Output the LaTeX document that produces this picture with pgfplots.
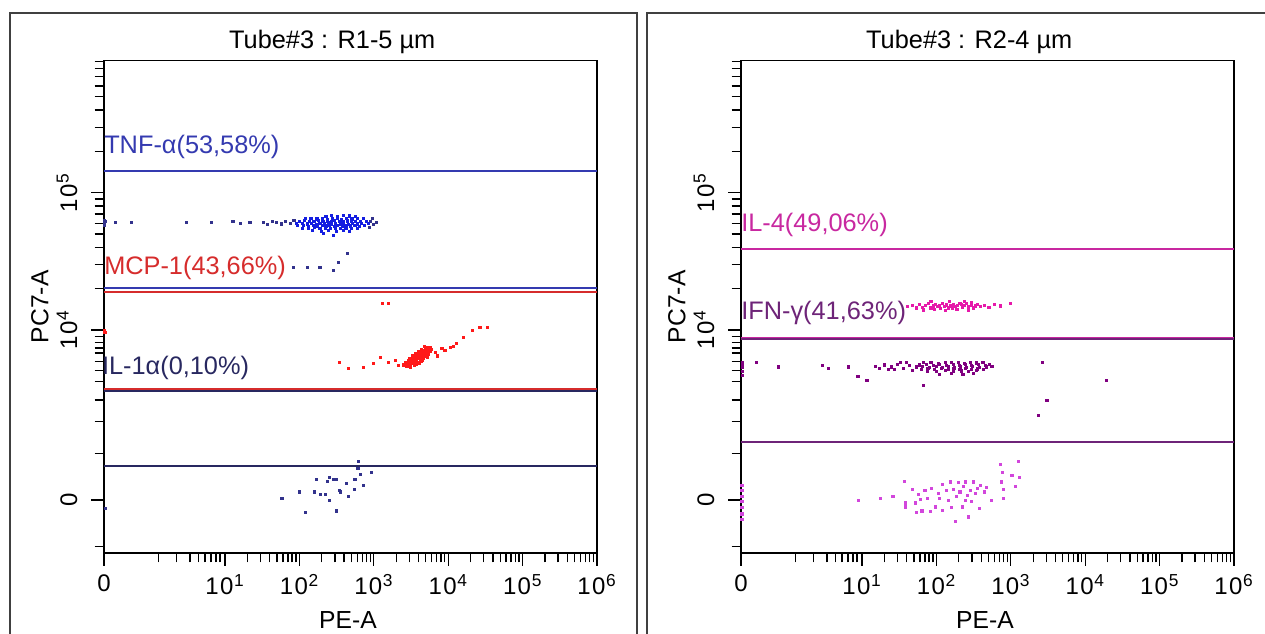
\documentclass[border=0pt]{standalone}
\usepackage{fontspec}
\setmainfont{Liberation Sans}
\usepackage{pgfplots}
\pgfplotsset{compat=1.18}

% colours of gates and events
\definecolor{tnftxt}{RGB}{52,58,176}
\definecolor{mcptxt}{RGB}{214,44,44}
\definecolor{iltxt}{RGB}{40,40,96}
\definecolor{il4txt}{RGB}{200,40,160}
\definecolor{ifntxt}{RGB}{110,36,120}
\definecolor{bluedot}{RGB}{20,30,225}
\definecolor{navydot}{RGB}{50,50,140}
\definecolor{reddot}{RGB}{255,25,25}
\definecolor{magdot}{RGB}{230,25,170}
\definecolor{purpdot}{RGB}{128,0,128}
\definecolor{violdot}{RGB}{210,70,220}

\newcommand{\pw}[1]{1\kern1pt0\kern0.5pt\textsuperscript{\fontsize{13}{13}\selectfont #1}}
\tikzset{gtxt/.style={anchor=west, inner sep=0pt, text=#1, font=\fontsize{19}{21}\selectfont}}

% display units: x = decades of PE-A (0 at left), y = decades of PC7-A (0 at the 0 tick)
\pgfplotsset{
  cyto/.style={
    x=55.8pt, y=102.975pt,
    xmin=0, xmax=6.626, ymin=-0.386, ymax=3.2,
    anchor=south west, clip=false,
    axis line style={line width=1.2pt},
    tick align=outside, tick pos=left,
    major tick length=9.5pt, minor tick length=7pt,
    every tick/.style={black, line width=1pt},
    xtick={0,1.626,2.626,3.626,4.626,5.626,6.626},
    xticklabels={0,\pw{1},\pw{2},\pw{3},\pw{4},\pw{5},\pw{6}},
    minor xtick={0.730,0.977,1.156,1.267,1.358,1.438,1.505,1.559,
      1.927,2.103,2.228,2.325,2.404,2.471,2.529,2.580,
      2.927,3.103,3.228,3.325,3.404,3.471,3.529,3.580,
      3.927,4.103,4.228,4.325,4.404,4.471,4.529,4.580,
      4.927,5.103,5.228,5.325,5.404,5.471,5.529,5.580,
      5.927,6.103,6.228,6.325,6.404,6.471,6.529,6.580},
    ytick={0,1.238,2.238},
    yticklabels={0,\pw{4},\pw{5}},
    minor ytick={-0.340,0.340,0.570,0.728,0.862,0.942,1.007,1.071,1.107,1.146,1.189,
      1.539,1.715,1.840,1.937,2.016,2.083,2.141,2.192,
      2.539,2.715,2.840,2.937,3.016,3.083,3.141,3.192},
    tick label style={font=\fontsize{18}{20}\selectfont},
    xticklabel style={yshift=-3pt},
    yticklabel style={xshift=-7pt, rotate=90, anchor=south},
    label style={font=\fontsize{18.5}{20}\selectfont},
    xlabel={PE-A}, ylabel={PC7-A},
    xlabel style={at={(axis description cs:0.495,-0.136)}, anchor=center},
    ylabel style={at={(axis description cs:-0.13,0.5)}, anchor=center},
    title style={font=\fontsize{19}{21}\selectfont, at={(axis description cs:0.463,1.022)}, anchor=center},
  },
  ev/.style={only marks, mark=square*, mark size=0.8pt, color=#1, mark options={solid, draw=#1, fill=#1}},
  gate/.style={line width=1.3pt, color=#1, mark=none},
}

\begin{document}
\begin{tikzpicture}
\path[use as bounding box] (0,0) rectangle (948.75pt,475.5pt);
\clip (0,0) rectangle (948.75pt,475.5pt);
\draw[line width=1.5pt, black!75] (7.5pt,-20pt) rectangle (477.75pt,465.4pt);
\draw[line width=1.5pt, black!75] (485.25pt,-20pt) rectangle (980pt,465.4pt);

% ---------------- left panel ----------------
\begin{axis}[cyto, at={(78pt,60.75pt)}, title={Tube\#3 : R1-5 µm}]
% gates
\addplot[gate=tnftxt] coordinates {(0,2.396) (6.626,2.396)};
\addplot[gate=tnftxt] coordinates {(0,1.546) (6.626,1.546)};
\addplot[gate=mcptxt] coordinates {(0,1.517) (6.626,1.517)};
\addplot[gate=mcptxt] coordinates {(0,0.806) (6.626,0.806)};
\addplot[gate=iltxt] coordinates {(0,0.796) (6.626,0.796)};
\addplot[gate=iltxt] coordinates {(0,0.248) (6.626,0.248)};
% TNF events, sparse
\addplot[ev=navydot] coordinates {
(0,2.02) (0,2.04) (0,2.00) (0.02,2.03) (0.15,2.02) (0.37,2.025) (1.11,2.02) (1.44,2.02)
(1.73,2.03) (1.83,2.015) (1.96,2.02) (2.14,2.025) (2.20,2.01) (2.26,2.03) (2.32,2.02)
(2.38,2.012) (2.44,2.028) (2.50,2.018) (2.55,2.035) (3.58,2.03) (3.62,2.01) (3.66,2.025)
(3.60,2.05) (3.56,1.985)
(2.54,1.697) (2.73,1.697) (2.90,1.697) (3.08,1.675) (3.15,1.733) (3.27,1.799)};
% TNF events, main cluster
\addplot[ev=bluedot] coordinates {
(2.98,2.068) (3.05,2.072) (3.14,2.066) (3.22,2.075) (3.30,2.07) (3.38,2.064)
(2.70,2.05) (2.78,2.055) (2.86,2.048) (2.93,2.052) (3.00,2.046) (3.07,2.054) (3.13,2.05)
(3.19,2.045) (3.26,2.052) (3.33,2.048) (3.40,2.055) (3.48,2.05)
(2.62,2.03) (2.69,2.035) (2.76,2.028) (2.82,2.032) (2.88,2.036) (2.94,2.029) (3.00,2.033)
(3.05,2.027) (3.10,2.035) (3.16,2.03) (3.21,2.026) (3.27,2.034) (3.32,2.03) (3.38,2.027)
(3.44,2.033) (3.52,2.03)
(2.58,2.014) (2.66,2.018) (2.73,2.012) (2.79,2.016) (2.85,2.01) (2.90,2.017) (2.96,2.013)
(3.01,2.019) (3.06,2.011) (3.11,2.016) (3.17,2.012) (3.22,2.018) (3.28,2.01) (3.34,2.016)
(3.40,2.012) (3.46,2.017) (3.55,2.014)
(2.60,1.998) (2.68,2.002) (2.75,1.996) (2.81,2.0) (2.87,1.994) (2.93,2.001) (2.98,1.997)
(3.03,2.003) (3.09,1.995) (3.14,1.999) (3.20,1.996) (3.25,2.002) (3.31,1.997) (3.37,2.0)
(3.43,1.995) (3.50,1.999)
(2.66,1.982) (2.74,1.978) (2.83,1.984) (2.90,1.979) (2.97,1.983) (3.04,1.977) (3.11,1.982)
(3.18,1.978) (3.25,1.983) (3.32,1.979) (3.40,1.982)
(2.80,1.962) (2.92,1.958) (3.02,1.965) (3.12,1.96) (3.22,1.963) (3.30,1.957)
(3.08,1.93) (2.95,1.945)};
% MCP-1 events
\addplot[ev=reddot] coordinates {
(0,1.238) (0.01,1.22) (3.74,1.435) (3.82,1.435)
(3.16,1.005) (3.28,0.961) (3.48,0.969) (3.62,0.998) (3.71,1.04) (3.82,1.005) (3.91,1.02) (3.95,0.98)
(4.45,1.078) (4.48,1.05) (4.54,1.107) (4.58,1.09) (4.65,1.114) (4.70,1.12) (4.74,1.143)
(4.83,1.187) (4.95,1.238) (5.05,1.26) (5.15,1.26)
(4.02,0.985) (4.06,0.99) (4.08,1.0) (4.10,0.985) (4.12,1.005) (4.14,0.995) (4.05,1.005)
(4.09,1.015) (4.13,1.02) (4.16,1.01) (4.18,1.0) (4.11,1.03) (4.15,1.035) (4.18,1.025)
(4.20,1.015) (4.22,1.005) (4.17,1.045) (4.20,1.04) (4.23,1.03) (4.25,1.02) (4.21,1.055)
(4.24,1.05) (4.27,1.04) (4.29,1.03) (4.19,1.065) (4.23,1.07) (4.26,1.062) (4.29,1.055)
(4.31,1.045) (4.25,1.08) (4.28,1.075) (4.31,1.07) (4.33,1.06) (4.27,1.095) (4.30,1.09)
(4.33,1.085) (4.35,1.075) (4.32,1.10) (4.36,1.095) (4.38,1.085) (4.34,1.115) (4.38,1.11)
(4.40,1.10) (4.24,0.995) (4.26,1.01) (4.07,0.975) (4.17,0.98) (4.28,1.02) (4.36,1.06)
(4.14,1.05) (4.22,1.085) (4.30,1.12) (4.20,0.99) (4.12,0.97) (4.34,1.04)};
% events near zero
\addplot[ev=navydot] coordinates {
(2.39,0.012) (2.63,0.060) (2.71,-0.092) (2.83,0.060) (2.85,0.151) (2.91,0.044) (2.97,0.044)
(3.00,0.138) (3.03,0.165) (3.03,0.0) (3.08,0.151) (3.12,0.151) (3.12,-0.078) (3.16,0.073)
(3.17,0.060) (3.26,0.122) (3.28,0.029) (3.36,0.078) (3.37,0.151) (3.41,0.231) (3.42,0.279)
(3.44,0.189) (3.48,0.109) (3.59,0.202) (0.02,-0.06)};
\node[gtxt=tnftxt] at (axis cs:0,2.571) {TNF-α(53,58\%)};
\node[gtxt=mcptxt] at (axis cs:0,1.690) {MCP-1(43,66\%)};
\node[gtxt=iltxt] at (axis cs:-0.03,0.961) {IL-1α(0,10\%)};
\end{axis}

% ---------------- right panel ----------------
\begin{axis}[cyto, at={(555.75pt,60.75pt)}, title={Tube\#3 : R2-4 µm}]
\addplot[gate=il4txt] coordinates {(0,1.826) (6.626,1.826)};
\addplot[gate=il4txt] coordinates {(0,1.183) (6.626,1.183)};
\addplot[gate=ifntxt] coordinates {(0,1.173) (6.626,1.173)};
\addplot[gate=ifntxt] coordinates {(0,0.420) (6.626,0.420)};
% IL-4 events
\addplot[ev=magdot] coordinates {
(2.24,1.41) (2.30,1.42) (2.35,1.40) (2.40,1.425) (2.44,1.405) (2.48,1.418) (2.52,1.43)
(2.55,1.40) (2.58,1.415) (2.61,1.425) (2.64,1.408) (2.67,1.42) (2.70,1.432) (2.73,1.41)
(2.76,1.422) (2.79,1.40) (2.82,1.415) (2.85,1.428) (2.88,1.41) (2.91,1.42) (2.94,1.435)
(2.97,1.405) (3.00,1.418) (3.03,1.43) (3.06,1.41) (3.09,1.422) (3.12,1.40) (3.15,1.415)
(3.18,1.428) (3.22,1.41) (3.27,1.42) (3.33,1.405) (3.40,1.425) (3.48,1.415) (3.62,1.43)
(2.45,1.385) (2.60,1.39) (2.75,1.38) (2.90,1.39) (3.05,1.385) (2.55,1.445) (2.80,1.445)
(3.00,1.45) (2.68,1.395) (2.84,1.40) (2.96,1.425) (3.10,1.44)};
% IFN-gamma events
\addplot[ev=purpdot] coordinates {
(2.45,1.0) (2.55,1.005) (2.65,0.998) (2.74,1.004) (2.83,1.0) (2.92,1.006) (3.00,0.998)
(3.08,1.003) (3.16,0.999) (3.25,1.002)
(2.40,0.985) (2.49,0.988) (2.58,0.982) (2.67,0.987) (2.76,0.983) (2.85,0.989) (2.93,0.984)
(3.01,0.988) (3.10,0.983) (3.19,0.987) (3.28,0.984)
(2.36,0.97) (2.44,0.973) (2.53,0.968) (2.62,0.972) (2.70,0.967) (2.79,0.971) (2.87,0.966)
(2.95,0.972) (3.03,0.968) (3.11,0.973) (3.20,0.967) (3.30,0.97)
(2.42,0.955) (2.51,0.958) (2.60,0.953) (2.69,0.957) (2.78,0.952) (2.86,0.958) (2.94,0.954)
(3.02,0.957) (3.10,0.952) (3.18,0.956) (3.26,0.953)
(2.50,0.94) (2.62,0.937) (2.74,0.942) (2.85,0.936) (2.96,0.941) (3.06,0.938) (3.16,0.942)
(2.66,0.918) (2.83,0.922) (2.98,0.917) (3.12,0.921)
(1.92,0.985) (2.02,0.97) (2.10,0.99) (2.18,0.96) (2.26,0.98) (2.30,0.945) (1.98,0.955)
(2.22,1.0) (3.37,0.975) (3.34,0.99) (1.80,0.975) (1.86,0.96) (2.06,0.95) (2.14,1.005)
(0.02,1.0) (0.02,0.97) (0.02,0.94) (0.02,0.91) (0.02,0.99) (0.2,1.0) (0.5,0.97) (1.09,0.98)
(1.17,0.96) (1.44,0.97) (1.57,0.9) (1.69,0.874) (2.45,0.838) (4.05,1.0) (4.91,0.874)
(4.11,0.728) (3.99,0.619)};
% events near zero
\addplot[ev=violdot] coordinates {
(1.58,0) (1.87,0.012) (2.04,0.029) (2.19,0.138) (2.21,-0.020) (2.21,-0.049) (2.30,0.078)
(2.34,-0.020) (2.35,-0.092) (2.38,0.044) (2.41,0.005) (2.43,-0.078) (2.47,0.073) (2.50,0.012)
(2.54,-0.085) (2.56,0.085) (2.61,-0.049) (2.65,0.049) (2.67,0.012) (2.70,-0.073) (2.71,0.117)
(2.76,0.073) (2.79,0) (2.81,0.133) (2.83,-0.053) (2.85,0.078) (2.88,-0.158) (2.89,0.024)
(2.92,0.126) (2.94,0.060) (2.97,-0.049) (2.99,0.097) (3.01,0) (3.02,0.133) (3.04,0.036)
(3.06,-0.122) (3.08,0.073) (3.10,-0.012) (3.12,0.133) (3.15,0.049) (3.17,0.085) (3.20,-0.060)
(3.22,0.109) (3.27,0.060) (3.30,0.092) (3.36,0) (3.48,0.262) (3.50,0.133) (3.51,0.199)
(3.52,0.012) (3.53,0.078) (3.64,0.182) (3.69,0.102) (3.73,0.279) (3.74,0.165)
(0.01,0.11) (0.01,0.07) (0.01,0.03) (0.01,-0.01) (0.01,-0.05) (0.01,-0.1) (0.01,-0.14)};
\node[gtxt=il4txt] at (axis cs:0,2.003) {IL-4(49,06\%)};
\node[gtxt=ifntxt] at (axis cs:0,1.362) {IFN-γ(41,63\%)};
\end{axis}
\end{tikzpicture}
\end{document}
